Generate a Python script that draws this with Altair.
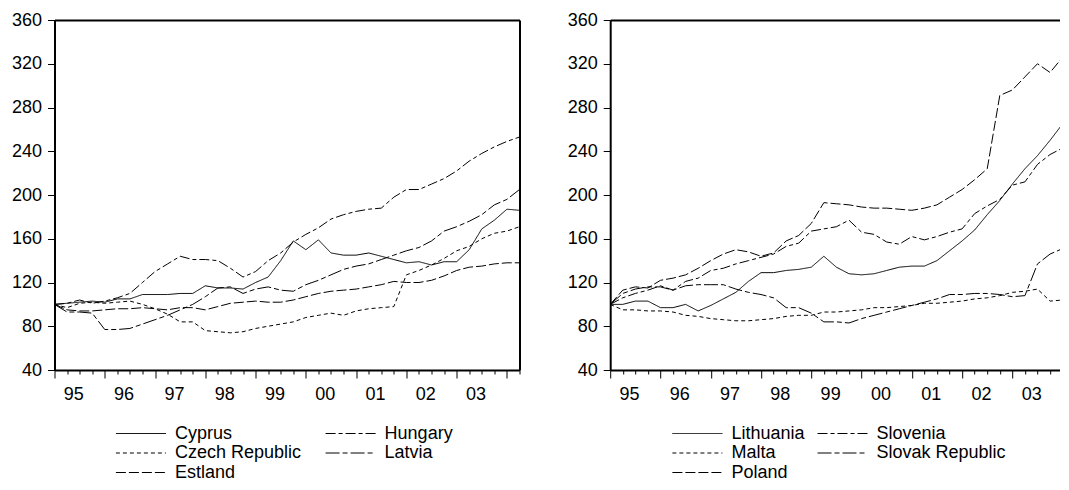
import altair as alt
import pandas as pd

# quarterly observations 1995Q1 .. 2004Q2 (index 0..37)
quarters = list(range(38))
year_labels = ["95", "96", "97", "98", "99", "00", "01", "02", "03"]
y_ticks = [40, 80, 120, 160, 200, 240, 280, 320, 360]

# ---- left panel ----
cyprus = [100, 101, 102, 103, 102, 105, 105, 109, 109, 109, 110, 110, 117, 115, 115, 114, 120, 125, 140, 158,
          150, 159, 147, 145, 145, 147, 144, 141, 138, 139, 136, 139, 139, 150, 169, 177, 187, 186]
hungary = [100, 101, 104, 101, 103, 106, 110, 120, 130, 137, 144, 141, 141, 140, 133, 125, 130, 140, 147, 157,
           164, 170, 178, 182, 185, 187, 188, 198, 205, 205, 210, 215, 222, 231, 238, 244, 249, 253]
latvia = [100, 93, 93, 92, 77, 77, 78, 82, 86, 90, 95, 100, 107, 115, 116, 110, 114, 116, 113, 112,
          118, 122, 127, 132, 135, 137, 141, 145, 149, 152, 158, 167, 171, 176, 182, 191, 196, 205]
czech = [100, 97, 101, 102, 101, 102, 103, 100, 96, 91, 84, 84, 76, 75, 74, 75, 78, 80, 82, 84,
         88, 90, 92, 90, 94, 96, 97, 98, 127, 131, 136, 142, 149, 153, 160, 165, 167, 171]
estland = [100, 95, 94, 94, 95, 96, 96, 97, 96, 95, 97, 97, 95, 98, 101, 102, 103, 102, 102, 104,
           107, 110, 112, 113, 114, 116, 118, 121, 120, 120, 122, 126, 131, 134, 135, 137, 138, 138]

# ---- right panel ----
lithuania = [100, 100, 103, 103, 97, 97, 100, 94, 99, 105, 111, 121, 129, 129, 131, 132, 134, 144, 134, 128,
             127, 128, 131, 134, 135, 135, 140, 149, 158, 168, 182, 195, 210, 224, 236, 250, 265, 267]
slovenia = [100, 106, 110, 113, 117, 113, 121, 124, 131, 133, 137, 140, 143, 146, 153, 156, 167, 169, 171, 177,
            166, 164, 157, 155, 162, 159, 162, 166, 169, 183, 190, 196, 209, 212, 228, 237, 243, 244]
poland = [100, 113, 116, 115, 122, 124, 127, 133, 140, 146, 150, 148, 144, 147, 158, 163, 174, 193, 192, 191,
          189, 188, 188, 187, 186, 188, 191, 198, 205, 214, 224, 291, 296, 308, 320, 312, 326, 345]
slovak = [100, 110, 114, 116, 116, 113, 117, 118, 118, 118, 114, 111, 109, 106, 97, 97, 92, 84, 84, 83,
          87, 90, 93, 96, 99, 102, 105, 109, 109, 110, 110, 109, 107, 108, 137, 146, 151, 155]
malta = [100, 95, 95, 94, 94, 93, 90, 89, 87, 86, 85, 85, 86, 87, 89, 90, 90, 93, 93, 94,
         95, 97, 97, 98, 99, 101, 101, 102, 103, 105, 106, 108, 111, 112, 114, 103, 104, 104]

# legend fills column by column
left_series = {"Cyprus": cyprus, "Czech Republic": czech, "Estland": estland, "Hungary": hungary, "Latvia": latvia}
right_series = {"Lithuania": lithuania, "Malta": malta, "Poland": poland, "Slovenia": slovenia,
                "Slovak Republic": slovak}

SOLID = [1, 0]
SHORT = [4, 3]
LONG = [10, 3]
LONG_SHORT = [10, 3, 4, 3]
LONG_LONG_SHORT = [14, 3, 5, 3]
dash_range = [SOLID, SHORT, LONG, LONG_SHORT, LONG_LONG_SHORT]

QW = 465 / 37.0  # pixels per quarter


def long_df(series):
    rows = []
    for name, vals in series.items():
        for t, v in zip(quarters, vals):
            rows.append({"t": t, "value": v, "series": name})
    return pd.DataFrame(rows)


label_array = "[" + ",".join("'%s'" % s for s in year_labels) + "]"
label_test = "datum.value % 4 === 0 && datum.value < 36"
x_label_expr = label_test + " ? " + label_array + "[datum.value / 4] : ''"


def panel(series, col_pad, legend_x, right_border):
    df = long_df(series)
    order = list(series.keys())
    xscale = alt.Scale(domain=[0, 37], nice=False, zero=False)
    yscale = alt.Scale(domain=[40, 360], nice=False, zero=False)
    lines = alt.Chart(df).mark_line(color="black", strokeWidth=1, clip=True).encode(
        x=alt.X("t:Q", scale=xscale,
                axis=alt.Axis(values=quarters, title=None, grid=False, domain=True, orient="bottom",
                              tickSize={"condition": {"test": "datum.value % 4 === 0", "value": 8}, "value": 4},
                              labelExpr=x_label_expr,
                              labelOffset={"condition": {"test": label_test, "value": 1.5 * QW}, "value": 0},
                              labelPadding=7.2,
                              labelOverlap=False, labelFlush=False, labelBound=False)),
        y=alt.Y("value:Q", scale=yscale,
                axis=alt.Axis(values=y_ticks, title=None, grid=False, domain=True, orient="left",
                              tickSize=7, labelPadding=6)),
        strokeDash=alt.StrokeDash("series:N", sort=order,
                                  scale=alt.Scale(domain=order, range=dash_range),
                                  legend=alt.Legend(title=None, orient="none", legendX=legend_x, legendY=404.5,
                                                    columns=2, symbolType="M-5,0H5", symbolSize=100,
                                                    symbolStrokeWidth=1, symbolStrokeColor="black",
                                                    symbolFillColor="transparent",
                                                    labelFont="Liberation Sans", labelFontSize=18,
                                                    labelColor="black", labelOffset=25,
                                                    columnPadding=col_pad, rowPadding=1.5, padding=0)),
    )
    frame_y = alt.Axis(title=None, grid=False, domain=True, ticks=False, labels=False, orient="right") \
        if right_border else None
    frame = alt.Chart(df).mark_line(opacity=0, clip=True).encode(
        x=alt.X("t:Q", scale=xscale,
                axis=alt.Axis(title=None, grid=False, domain=True, ticks=False, labels=False, orient="top")),
        y=alt.Y("value:Q", scale=yscale, axis=frame_y),
        detail="series:N",
    )
    return alt.layer(lines, frame).resolve_axis(x="independent", y="independent").properties(
        width=465, height=350)


left = panel(left_series, 21.7, 77.4, True)
right = panel(right_series, 10.1, 78.2, False)

# the right panel runs past the page edge, as in the original picture: it is cut off there
chart = alt.hconcat(left, right, spacing=45.7).resolve_scale(strokeDash="independent").properties(
    padding={"left": 2.5, "top": 2, "right": -17, "bottom": 0}
).configure_view(stroke="transparent").configure_axis(
    labelFont="Liberation Sans", labelFontSize=18, labelColor="black",
    tickColor="black", tickWidth=1, domainColor="black", domainWidth=2
)

chart.save("out.html", embed_options={"renderer": "svg", "actions": False})
